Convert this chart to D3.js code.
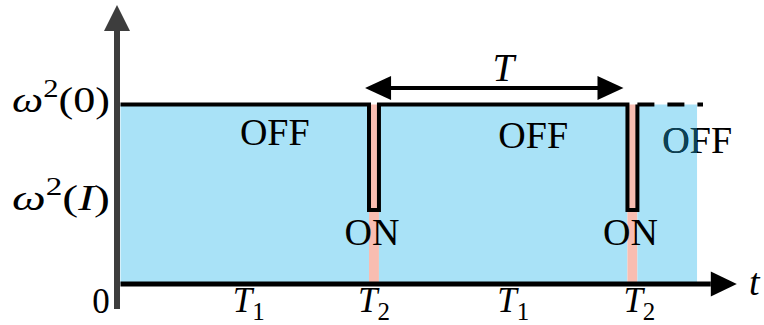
<!DOCTYPE html>
<html>
<head>
<meta charset="utf-8">
<script src="https://cdn.jsdelivr.net/npm/d3@7"></script>
<style>
  html, body { margin: 0; padding: 0; background: #ffffff; }
  svg { display: block; }
</style>
</head>
<body>
<svg id="chart" width="764" height="325"></svg>
<script>
// Switching schedule: each segment of time is either OFF (level ω²(0)) or ON (level ω²(I)).
const segStart = [0, 25, 26, 51, 52];
const segEnd   = [25, 26, 51, 52, 58];
const segState = ["OFF", "ON", "OFF", "ON", "OFF"];

// Levels of the squared frequency, normalised to ω²(0) = 1.
const levelNames  = ["OFF", "ON"];
const levelValues = [1, 0.412];
const levelLabels = [["ω", "2", "(0)"], ["ω", "2", "(", "I", ")"]];

// Time-axis labels: duration names placed under each interval.
const xTickTimes  = [12.9, 25.5, 39.5, 52.2];
const xTickMain   = ["T", "T", "T", "T"];
const xTickSub    = ["1", "2", "1", "2"];

// Period arrow (T = T1 + T2) and the dashed continuation of the signal.
const periodStart = 24.6;
const periodLength = 26;
const continueTo = 58.6;
const tMax = 62;
const vMax = 1.554;

const svg = d3.select("#chart");
const x = d3.scaleLinear().domain([0, tMax]).range([120.5, 736.8]);
const y = d3.scaleLinear().domain([0, 1]).range([284, 104.5]);

const level = s => levelValues[levelNames.indexOf(s)];
const segs = segStart.map((s, i) => ({ start: s, end: segEnd[i], state: segState[i] }));

const BLUE = "#a9e2f7", PINK = "#f9bdb1";
const serif = "'Liberation Serif', 'Times New Roman', serif";

// Shaded areas under each segment
svg.append("g").selectAll("rect").data(segs).join("rect")
  .attr("x", d => x(d.start))
  .attr("width", d => x(d.end) - x(d.start))
  .attr("y", y(1))
  .attr("height", y(0) - y(1))
  .attr("fill", d => d.state === "OFF" ? BLUE : PINK);

// OFF / ON state labels
const offBaselines = [145, 148, 153];
const offSegs = segs.filter(d => d.state === "OFF");
const onSegs = segs.filter(d => d.state === "ON");

const defs = svg.append("defs");
const last = segs[segs.length - 1];
defs.append("clipPath").attr("id", "lastFill").append("rect")
  .attr("x", x(last.start)).attr("width", x(last.end) - x(last.start))
  .attr("y", y(1)).attr("height", y(0) - y(1));

offSegs.forEach((d, i) => {
  const cx = x((d.start + d.end) / 2) + 30;
  svg.append("text")
    .attr("x", cx).attr("y", offBaselines[i])
    .attr("text-anchor", "middle")
    .attr("font-family", serif).attr("font-size", 38)
    .attr("fill", "#000").text(d.state);
  if (d === last) {
    // the part of the last label lying on the shaded area is tinted
    svg.append("text")
      .attr("x", cx).attr("y", offBaselines[i])
      .attr("text-anchor", "middle")
      .attr("font-family", serif).attr("font-size", 38)
      .attr("clip-path", "url(#lastFill)")
      .attr("fill", "#0b4257").text(d.state);
  }
});

onSegs.forEach(d => {
  svg.append("text")
    .attr("x", x((d.start + d.end) / 2) - 2).attr("y", 245)
    .attr("text-anchor", "middle")
    .attr("font-family", serif).attr("font-size", 38)
    .attr("fill", "#000").text(d.state);
});

// Signal trace
const pts = [];
segs.forEach((d, i) => {
  if (i < segs.length - 1) {
    pts.push([d.start, level(d.state)], [d.end, level(d.state)]);
  } else {
    pts.push([d.start, level(d.state)]);
  }
});
const line = d3.line().x(p => x(p[0])).y(p => y(p[1]));
svg.append("path").attr("d", line(pts))
  .attr("fill", "none").attr("stroke", "#000").attr("stroke-width", 4)
  .attr("stroke-linejoin", "miter");
svg.append("path").attr("d", line([[last.start, level(last.state)], [continueTo, level(last.state)]]))
  .attr("fill", "none").attr("stroke", "#000").attr("stroke-width", 4)
  .attr("stroke-dasharray", "17,13");

// Period arrow
const ay = 88, ah = 26, aw = 12;
const ax0 = x(periodStart), ax1 = x(periodStart + periodLength);
svg.append("line").attr("x1", ax0 + ah - 2).attr("x2", ax1 - ah + 2)
  .attr("y1", ay).attr("y2", ay).attr("stroke", "#000").attr("stroke-width", 4);
svg.append("path").attr("d", `M${ax0},${ay} L${ax0 + ah},${ay - aw} L${ax0 + ah},${ay + aw} Z`).attr("fill", "#000");
svg.append("path").attr("d", `M${ax1},${ay} L${ax1 - ah},${ay - aw} L${ax1 - ah},${ay + aw} Z`).attr("fill", "#000");
svg.append("text").attr("x", (ax0 + ax1) / 2 + 9).attr("y", 81)
  .attr("text-anchor", "middle").attr("font-family", serif)
  .attr("font-style", "italic").attr("font-size", 39).text("T");

// Horizontal (time) axis
svg.append("line").attr("x1", x(0)).attr("x2", x(tMax) - 26)
  .attr("y1", y(0)).attr("y2", y(0)).attr("stroke", "#000").attr("stroke-width", 5);
svg.append("path")
  .attr("d", `M${x(tMax)},${y(0)} L${x(tMax) - 26},${y(0) - 12.5} L${x(tMax) - 26},${y(0) + 12.5} Z`)
  .attr("fill", "#000");
svg.append("text").attr("x", 749).attr("y", 295)
  .attr("font-family", serif).attr("font-style", "italic").attr("font-size", 38).text("t");

// Vertical axis
const yAx = 117;
svg.append("line").attr("x1", yAx).attr("x2", yAx)
  .attr("y1", 309).attr("y2", y(vMax) + 26)
  .attr("stroke", "#3d3d3d").attr("stroke-width", 6);
svg.append("path")
  .attr("d", `M${yAx},${y(vMax)} L${yAx - 13},${y(vMax) + 26} L${yAx + 13},${y(vMax) + 26} Z`)
  .attr("fill", "#3d3d3d");

// Origin label
svg.append("text").attr("x", 101).attr("y", 313).attr("text-anchor", "middle")
  .attr("font-family", serif).attr("font-size", 35).text("0");

// Time-axis duration labels
xTickTimes.forEach((t, i) => {
  const tx = svg.append("text").attr("x", x(t)).attr("y", 312)
    .attr("text-anchor", "middle").attr("font-family", serif).attr("font-size", 35);
  tx.append("tspan").attr("font-style", "italic").text(xTickMain[i]);
  tx.append("tspan").attr("font-size", 25).attr("dy", 8).text(xTickSub[i]);
});

// Level labels on the vertical axis
const levelBaselines = [112, 210];
levelValues.forEach((v, i) => {
  const parts = levelLabels[i];
  const tx = svg.append("text").attr("x", 12).attr("y", levelBaselines[i])
    .attr("font-family", serif).attr("font-size", 36)
    .attr("textLength", 98).attr("lengthAdjust", "spacingAndGlyphs");
  tx.append("tspan").attr("font-style", "italic").text(parts[0]);
  tx.append("tspan").attr("font-size", 25).attr("dy", -15).text(parts[1]);
  tx.append("tspan").attr("dy", 15).text(parts[2]);
  if (parts.length > 3) {
    tx.append("tspan").attr("font-style", "italic").text(parts[3]);
    tx.append("tspan").text(parts[4]);
  }
});
</script>
</body>
</html>
